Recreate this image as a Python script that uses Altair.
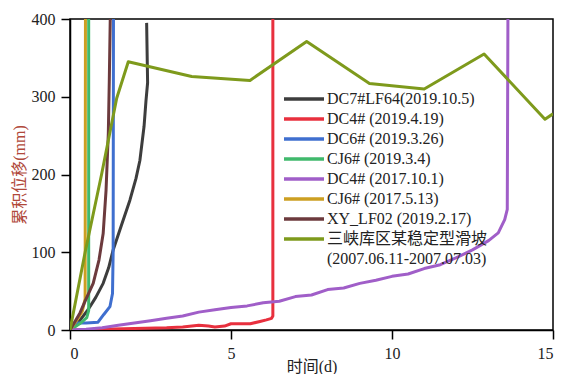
import altair as alt
import pandas as pd

# Series names (legend order = drawing order)
series_names = [
    "DC7#LF64(2019.10.5)",
    "DC4# (2019.4.19)",
    "DC6# (2019.3.26)",
    "CJ6# (2019.3.4)",
    "DC4# (2017.10.1)",
    "CJ6# (2017.5.13)",
    "XY_LF02 (2019.2.17)",
    "三峡库区某稳定型滑坡",
]
# continuation line of the last legend label
legend_extra = "(2007.06.11-2007.07.03)"

series_colors = [
    "#3d3d3d", "#e8303e", "#3f6fcf", "#40b96c",
    "#a05ec8", "#cc9f22", "#6c3a3d", "#7e9a1c",
]

# time (d) and cumulative displacement (mm) per series
dc7_t = [0, 0.1, 0.3, 0.56, 0.8, 1.03, 1.2, 1.34, 1.6, 1.86, 2.05, 2.17, 2.3, 2.36, 2.41, 2.38]
dc7_d = [0, 2, 12, 26, 42, 60, 80, 103, 135, 167, 195, 218, 262, 295, 318, 395]

dc4a_t = [0, 1, 2, 3, 3.5, 4.0, 4.3, 4.5, 4.8, 5.0, 5.3, 5.6, 5.9, 6.1, 6.26, 6.3, 6.3]
dc4a_d = [0, 1, 2, 3, 4, 6, 5, 4, 5, 8, 8, 8, 11, 13, 15, 18, 400]

dc6_t = [0, 0.16, 0.5, 0.87, 1.05, 1.24, 1.32, 1.34, 1.35]
dc6_d = [0, 9, 9, 10, 20, 30, 47, 100, 400]

cj6a_t = [0, 0.3, 0.52, 0.58, 0.58]
cj6a_d = [0, 8, 16, 25, 400]

dc4b_t = [0, 0.5, 1, 1.5, 2, 2.5, 3, 3.5, 4, 4.5, 5, 5.5, 6, 6.5, 7, 7.5, 8, 8.5, 9,
          9.5, 10, 10.5, 11, 11.5, 12, 12.5, 13, 13.3, 13.5, 13.58, 13.6]
dc4b_d = [0, 1, 3, 6, 9, 12, 15, 18, 23, 26, 29, 31, 35, 37, 43, 45, 52, 54, 60,
          64, 69, 72, 79, 84, 93, 103, 115, 125, 142, 155, 400]

cj6b_t = [0, 0.2, 0.38, 0.47, 0.48]
cj6b_d = [0, 12, 24, 40, 400]

xy_t = [0, 0.31, 0.5, 0.72, 0.9, 1.03, 1.12, 1.19, 1.22, 1.25]
xy_d = [0, 22, 40, 60, 90, 124, 180, 253, 320, 400]

sx_t = [0, 0.47, 0.98, 1.45, 1.81, 3.78, 5.59, 7.35, 9.3, 11.0, 12.86, 14.75, 15.0]
sx_d = [0, 100, 200, 298, 345, 326, 321, 371, 317, 310, 355, 271, 278]

all_t = [dc7_t, dc4a_t, dc6_t, cj6a_t, dc4b_t, cj6b_t, xy_t, sx_t]
all_d = [dc7_d, dc4a_d, dc6_d, cj6a_d, dc4b_d, cj6b_d, xy_d, sx_d]

rows = []
for name, ts, ds in zip(series_names, all_t, all_d):
    for i, (t, d) in enumerate(zip(ts, ds)):
        rows.append({"series": name, "t": t, "d": d, "i": i})
df = pd.DataFrame(rows)

serif = "'Liberation Serif', 'Noto Sans CJK SC', serif"

color_scale = alt.Scale(
    domain=series_names + [legend_extra],
    range=series_colors + ["rgba(0,0,0,0)"],
)

chart = (
    alt.Chart(df)
    .mark_line(strokeWidth=3, clip=True, strokeJoin="round")
    .encode(
        x=alt.X(
            "t:Q",
            scale=alt.Scale(domain=[0, 15], nice=False),
            axis=alt.Axis(values=[0, 5, 10, 15], format="d", title="时间(d)",
                          titleY=28, titleBaseline="top"),
        ),
        y=alt.Y(
            "d:Q",
            scale=alt.Scale(domain=[0, 400], nice=False),
            axis=alt.Axis(values=[0, 100, 200, 300, 400], format="d",
                          title="累积位移(mm)", titleColor="#b0483a", titlePadding=4),
        ),
        color=alt.Color(
            "series:N",
            scale=color_scale,
            legend=alt.Legend(
                title=None,
                orient="none",
                legendX=226,
                legendY=72,
                symbolType="M-5,0H5",
                symbolSize=64,
                symbolStrokeWidth=3.5,
                labelOffset=15,
                labelFont=serif,
                labelFontSize=16,
                labelColor="#222222",
                labelLimit=400,
                rowPadding=4,
                padding=0,
            ),
        ),
        order=alt.Order("i:Q"),
    )
    .properties(
        width=483,
        height=311,
        autosize=alt.AutoSizeParams(type="none"),
        padding={"left": 70, "top": 19, "right": 10, "bottom": 44},
    )
    .configure_view(stroke="black", strokeWidth=1.5)
    .configure_axis(
        grid=False,
        domainColor="black",
        domainWidth=1.5,
        tickColor="black",
        tickWidth=1.5,
        tickSize=9,
        labelFont=serif,
        labelFontSize=16,
        labelColor="#222222",
        labelPadding=6,
        titleFont=serif,
        titleFontSize=16,
        titleFontWeight="normal",
        titleColor="#222222",
    )
)

chart.save("out.html", embed_options={"renderer": "svg", "actions": False})
